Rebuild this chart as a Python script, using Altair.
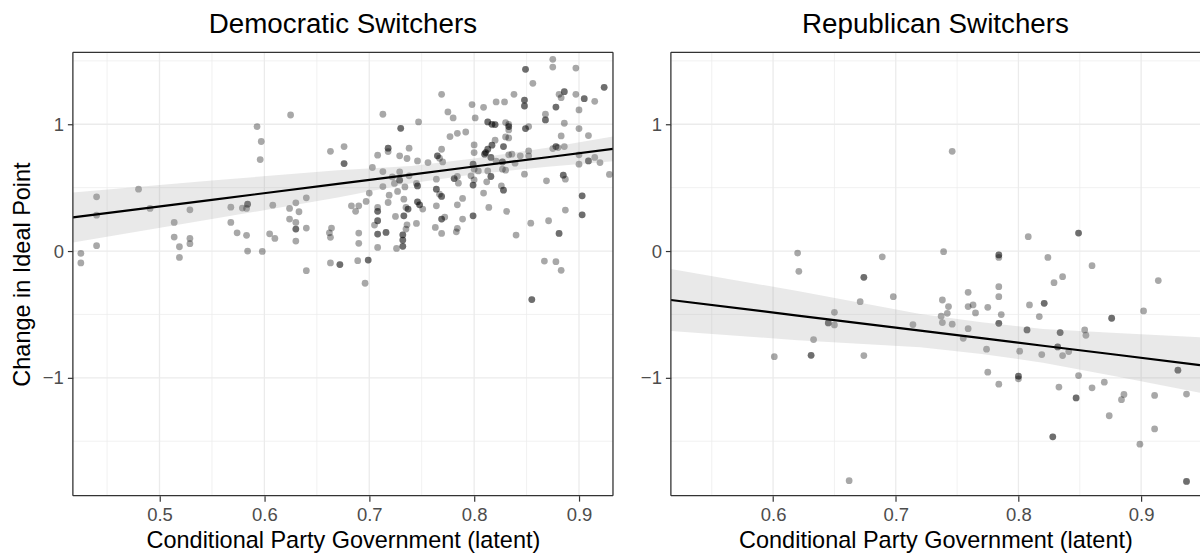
import altair as alt
import numpy as np
import pandas as pd

FONT = "Liberation Sans"

# ---------------- data ----------------
dem_x = [0.625, 0.593, 0.597, 0.596, 0.663, 0.480, 0.440, 0.440, 0.491, 0.440, 0.425, 0.425,
         0.514, 0.514, 0.519, 0.529, 0.529, 0.519, 0.529, 0.568, 0.579, 0.583, 0.584, 0.584,
         0.608, 0.568, 0.574, 0.583, 0.584, 0.598, 0.605, 0.610, 0.624, 0.630, 0.633, 0.640,
         0.624, 0.630, 0.630, 0.630, 0.640, 0.630, 0.662, 0.664, 0.663, 0.663, 0.640, 0.672, 0.672,
         0.875, 0.875, 0.849, 0.849, 0.897, 0.856, 0.924, 0.924, 0.886, 0.886, 0.881, 0.883,
         0.897, 0.905, 0.905, 0.915, 0.900, 0.878, 0.878, 0.868, 0.868, 0.868, 0.886, 0.900,
         0.909, 0.883, 0.886, 0.878, 0.878, 0.880, 0.875, 0.900, 0.900, 0.909, 0.909, 0.915,
         0.920, 0.929, 0.885, 0.885, 0.887, 0.869, 0.903, 0.903, 0.903, 0.903, 0.887, 0.871,
         0.881, 0.881, 0.854, 0.840, 0.848, 0.852, 0.849, 0.849, 0.852, 0.848, 0.848, 0.848,
         0.848, 0.838, 0.829, 0.821, 0.809, 0.798, 0.801, 0.813, 0.813, 0.817, 0.817, 0.820,
         0.820, 0.830, 0.833, 0.833, 0.833, 0.833, 0.830, 0.833, 0.828, 0.828, 0.833, 0.844,
         0.820, 0.817, 0.817, 0.813, 0.813, 0.811, 0.811, 0.816, 0.816, 0.821, 0.827, 0.827,
         0.836, 0.827, 0.830, 0.813, 0.816, 0.816, 0.812, 0.826, 0.828, 0.828, 0.809, 0.799,
         0.799, 0.800, 0.800, 0.800, 0.810, 0.810, 0.797, 0.799, 0.799, 0.804, 0.799, 0.799,
         0.789, 0.784, 0.789, 0.784, 0.783, 0.772, 0.769, 0.769, 0.763, 0.769, 0.769, 0.775,
         0.780, 0.784, 0.792, 0.777, 0.769, 0.765, 0.765, 0.767, 0.770, 0.756, 0.747, 0.730,
         0.730, 0.713, 0.718, 0.718, 0.718, 0.738, 0.729, 0.736, 0.746, 0.708, 0.703, 0.713,
         0.729, 0.738, 0.722, 0.729, 0.729, 0.724, 0.734, 0.713, 0.745, 0.746, 0.746, 0.727,
         0.719, 0.700, 0.718, 0.733, 0.697, 0.708, 0.708, 0.708, 0.735, 0.737, 0.737, 0.746,
         0.746, 0.748, 0.748, 0.751, 0.725, 0.733, 0.733, 0.708, 0.708, 0.705, 0.736, 0.745,
         0.735, 0.708, 0.708, 0.716, 0.716, 0.732, 0.732, 0.732, 0.732, 0.732, 0.732, 0.726,
         0.708, 0.690, 0.690, 0.687, 0.683, 0.690, 0.699, 0.699, 0.689, 0.676, 0.676, 0.676,
         0.764, 0.764, 0.764, 0.767, 0.769, 0.769, 0.764, 0.784, 0.781, 0.781, 0.785, 0.814,
         0.831, 0.839, 0.852, 0.800, 0.696, 0.867, 0.878, 0.883, 0.855, 0.855]
dem_y = [1.073, 0.982, 0.864, 0.722, 0.787, 0.488, 0.428, 0.283, 0.336, 0.042, -0.018, -0.094,
         0.226, 0.110, 0.034, 0.100, 0.058, -0.050, 0.325, 0.346, 0.339, 0.336, 0.370, 0.370,
         0.362, 0.226, 0.144, 0.124, 0.000, -0.003, 0.136, 0.100, 0.336, 0.380, 0.310, 0.420,
         0.252, 0.226, 0.173, 0.173, 0.181, 0.079, 0.144, 0.181, 0.108, -0.094, -0.155, -0.107, -0.107,
         1.512, 1.451, 1.433, 1.433, 1.443, 1.323, 1.291, 1.291, 1.257, 1.257, 1.236, 1.210,
         1.236, 1.202, 1.202, 1.181, 1.113, 1.136, 1.136, 1.079, 1.034, 1.034, 1.008, 0.966,
         0.911, 0.908, 0.824, 0.824, 0.824, 0.816, 0.808, 0.759, 0.685, 0.711, 0.711, 0.738,
         0.698, 0.604, 0.598, 0.598, 0.567, 0.554, 0.436, 0.436, 0.286, 0.286, 0.323, 0.239,
         0.139, 0.139, 0.220, 0.126, 0.606, 0.751, 0.966, 0.966, 0.982, 1.144, 1.144, 1.191,
         1.191, 1.236, 1.176, 1.176, 1.134, 1.155, 1.050, 1.018, 1.018, 1.000, 1.000, 0.998,
         0.998, 1.013, 0.982, 0.982, 1.000, 0.955, 0.900, 0.892, 0.824, 0.824, 0.759, 0.751,
         0.874, 0.835, 0.835, 0.803, 0.803, 0.777, 0.777, 0.738, 0.738, 0.709, 0.703, 0.703,
         0.764, 0.646, 0.638, 0.632, 0.588, 0.588, 0.546, 0.514, 0.480, 0.480, 0.457, 0.685,
         0.685, 0.646, 0.777, 0.837, 0.764, 0.764, 0.593, 0.520, 0.520, 0.632, 0.278, 0.278,
         0.415, 0.365, 0.252, 0.179, 0.152, 0.268, 0.252, 0.252, 0.186, 0.139, 1.236, 1.097,
         1.050, 0.929, 0.939, 0.903, 0.803, 0.751, 0.751, 0.732, 0.703, 0.698, 1.018, 0.968,
         0.968, 1.079, 0.811, 0.811, 0.785, 0.811, 0.751, 0.730, 0.711, 0.756, 0.659, 0.627,
         0.625, 0.593, 0.585, 0.559, 0.559, 0.533, 0.506, 0.509, 0.533, 0.514, 0.514, 0.470,
         0.441, 0.457, 0.383, 0.409, 0.391, 0.344, 0.313, 0.313, 0.344, 0.331, 0.331, 0.388,
         0.388, 0.365, 0.365, 0.331, 0.273, 0.278, 0.278, 0.239, 0.239, 0.205, 0.207, 0.218,
         0.173, 0.134, 0.134, 0.147, 0.147, 0.128, 0.128, 0.087, 0.087, 0.037, 0.037, 0.021,
         0.029, 0.142, 0.061, 0.313, 0.357, 0.357, -0.071, -0.071, -0.076, 0.824, 0.690, 0.690,
         0.567, 0.488, 0.488, 0.449, 0.431, 0.431, 0.357, 0.588, 0.572, 0.572, 0.535, 0.344,
         0.313, 0.693, 0.790, 0.562, -0.254, -0.079, -0.084, -0.152, -0.383, -0.383]

rep_x = [0.620, 0.621, 0.689, 0.674, 0.674, 0.698, 0.671, 0.650, 0.645, 0.645, 0.650, 0.633,
         0.631, 0.631, 0.601, 0.674, 0.714, 0.746, 0.739, 0.784, 0.784, 0.784, 0.808, 0.849,
         0.849, 0.824, 0.860, 0.836, 0.829, 0.914, 0.784, 0.784, 0.759, 0.738, 0.743, 0.759,
         0.763, 0.775, 0.765, 0.742, 0.737, 0.738, 0.746, 0.784, 0.784, 0.786, 0.809, 0.821,
         0.821, 0.817, 0.759, 0.755, 0.807, 0.807, 0.834, 0.834, 0.854, 0.855, 0.876, 0.876,
         0.902, 0.774, 0.801, 0.819, 0.832, 0.832, 0.836, 0.841, 0.930, 0.930, 0.775, 0.800,
         0.800, 0.800, 0.849, 0.870, 0.784, 0.833, 0.860, 0.847, 0.847, 0.886, 0.884, 0.874,
         0.828, 0.828, 0.911, 0.911, 0.899, 0.937, 0.937, 0.937, 0.662]
rep_y = [-0.016, -0.160, -0.045, -0.207, -0.207, -0.360, -0.399, -0.483, -0.567, -0.567, -0.583, -0.698,
         -0.822, -0.822, -0.833, -0.824, -0.580, 0.787, -0.005, -0.031, -0.031, -0.050, 0.113, 0.142,
         0.142, -0.050, -0.115, -0.202, -0.249, -0.233, -0.281, -0.360, -0.325, -0.386, -0.438, -0.438,
         -0.425, -0.444, -0.488, -0.491, -0.514, -0.564, -0.577, -0.570, -0.570, -0.501, -0.425, -0.412,
         -0.412, -0.517, -0.612, -0.688, -0.622, -0.622, -0.643, -0.643, -0.622, -0.664, -0.530, -0.530,
         -0.472, -0.774, -0.790, -0.816, -0.756, -0.756, -0.824, -0.793, -0.940, -0.940, -0.955, -0.987,
         -0.987, -1.008, -0.982, -1.034, -1.050, -1.073, -1.079, -1.158, -1.158, -1.131, -1.172, -1.299,
         -1.465, -1.465, -1.139, -1.403, -1.523, -1.128, -1.817, -1.817, -1.811]

# fitted line and 95% band
dem_fit_x = [0.4174, 0.55, 0.67, 0.74, 0.80, 0.87, 0.9324]
dem_fit = [0.265, 0.404, 0.530, 0.603, 0.667, 0.740, 0.806]
dem_fit_lo = [0.068, 0.252, 0.422, 0.535, 0.605, 0.665, 0.708]
dem_fit_hi = [0.462, 0.556, 0.638, 0.671, 0.729, 0.815, 0.904]

rep_fit_x = [0.5167, 0.62, 0.72, 0.77, 0.82, 0.88, 0.948]
rep_fit = [-0.386, -0.509, -0.628, -0.687, -0.747, -0.818, -0.899]
rep_fit_lo = [-0.631, -0.703, -0.759, -0.812, -0.880, -0.990, -1.118]
rep_fit_hi = [-0.141, -0.315, -0.497, -0.562, -0.614, -0.646, -0.680]

y_domain = [-1.929, 1.567]
y_major = [-1, 0, 1]
y_minor = [-1.5, -0.5, 0.5, 1.5]

dem_x_domain = [0.4174, 0.9324]
dem_x_major = [0.5, 0.6, 0.7, 0.8, 0.9]
dem_x_minor = [0.45, 0.55, 0.65, 0.75, 0.85]

rep_x_domain = [0.5167, 0.948]
rep_x_major = [0.6, 0.7, 0.8, 0.9]
rep_x_minor = [0.55, 0.65, 0.75, 0.85]

PANEL_H = 444
DEM_W = 541
REP_W = 530
X_TITLE = "Conditional Party Government (latent)"
Y_TITLE = "Change in Ideal Point"


def panel(xs, ys, fx, ff, flo, fhi, title, xdom, xmaj, xmin, ytitle, width, right_border):
    pts = pd.DataFrame({"x": xs, "y": ys})
    band = pd.DataFrame({"x": fx, "fit": ff, "lo": flo, "hi": fhi})
    xsc = alt.Scale(domain=xdom, nice=False, zero=False)
    ysc = alt.Scale(domain=y_domain, nice=False, zero=False)
    xax = alt.Axis(values=xmaj, format=".1f", title=X_TITLE)
    yax = alt.Axis(values=y_major, format="d", title=ytitle)

    vmin = alt.Chart(pd.DataFrame({"x": xmin})).mark_rule(
        color="#ebebeb", strokeWidth=0.7).encode(x=alt.X("x:Q", scale=xsc, axis=xax))
    hmin = alt.Chart(pd.DataFrame({"y": y_minor})).mark_rule(
        color="#ebebeb", strokeWidth=0.7).encode(y=alt.Y("y:Q", scale=ysc, axis=yax))
    vmaj = alt.Chart(pd.DataFrame({"x": xmaj})).mark_rule(
        color="#ebebeb", strokeWidth=1.3).encode(x=alt.X("x:Q", scale=xsc, axis=xax))
    hmaj = alt.Chart(pd.DataFrame({"y": y_major})).mark_rule(
        color="#ebebeb", strokeWidth=1.3).encode(y=alt.Y("y:Q", scale=ysc, axis=yax))

    points = alt.Chart(pts).mark_circle(
        color="black", opacity=0.34, size=46, clip=True
    ).encode(
        x=alt.X("x:Q", scale=xsc, axis=xax),
        y=alt.Y("y:Q", scale=ysc, axis=yax),
    )
    ribbon = alt.Chart(band).mark_area(
        color="#999999", opacity=0.22, clip=True
    ).encode(
        x=alt.X("x:Q", scale=xsc, axis=xax),
        y=alt.Y("lo:Q", scale=ysc, axis=yax),
        y2="hi:Q",
    )
    line = alt.Chart(band).mark_line(
        color="black", strokeWidth=2.2, clip=True
    ).encode(
        x=alt.X("x:Q", scale=xsc, axis=xax),
        y=alt.Y("fit:Q", scale=ysc, axis=yax),
    )
    bc = "#333333"
    bw = 1.3
    borders = [
        alt.Chart().mark_rule(color=bc, strokeWidth=bw).encode(
            x=alt.value(0), x2=alt.value(width), y=alt.value(0)),
        alt.Chart().mark_rule(color=bc, strokeWidth=bw).encode(
            x=alt.value(0), x2=alt.value(width), y=alt.value(PANEL_H)),
        alt.Chart().mark_rule(color=bc, strokeWidth=bw).encode(
            x=alt.value(0), y=alt.value(0), y2=alt.value(PANEL_H)),
    ]
    if right_border:
        borders.append(alt.Chart().mark_rule(color=bc, strokeWidth=bw).encode(
            x=alt.value(width), y=alt.value(0), y2=alt.value(PANEL_H)))

    return alt.layer(vmin, hmin, vmaj, hmaj, points, ribbon, line, *borders).properties(
        width=width,
        height=PANEL_H,
        title=alt.TitleParams(text=title, fontSize=27.8, font=FONT, fontWeight="normal",
                              color="black", anchor="middle", offset=13),
    )


left = panel(dem_x, dem_y, dem_fit_x, dem_fit, dem_fit_lo, dem_fit_hi,
             "Democratic Switchers", dem_x_domain, dem_x_major,
             dem_x_minor, Y_TITLE, DEM_W, True)
right = panel(rep_x, rep_y, rep_fit_x, rep_fit, rep_fit_lo, rep_fit_hi,
              "Republican Switchers", rep_x_domain, rep_x_major,
              rep_x_minor, None, REP_W, False)

chart = alt.hconcat(left, right, spacing=24).properties(
    padding={"left": 10, "top": 10, "right": 0, "bottom": 0},
    background="white",
).configure_view(
    stroke="transparent"
).configure_axis(
    labelFont=FONT, labelFontSize=18.5, labelColor="#4d4d4d", labelPadding=4,
    titleFont=FONT, titleFontSize=23.5, titleColor="black", titleFontWeight="normal",
    titlePadding=5, tickColor="#333333", tickSize=5.5, tickWidth=1.2,
    domain=False, grid=False,
).configure_axisY(
    titlePadding=7.5
).configure_concat(spacing=23)

chart.save("out.html", embed_options={"renderer": "svg", "actions": False})
